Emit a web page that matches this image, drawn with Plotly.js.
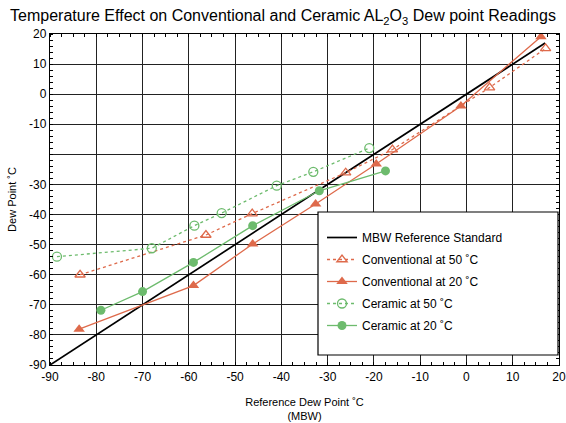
<!DOCTYPE html>
<html><head><meta charset="utf-8">
<script src="https://cdn.plot.ly/plotly-3.0.1.min.js"></script>
<style>html,body{margin:0;padding:0;background:#fff}#plot{width:566px;height:423px}</style>
</head><body><div id="plot"></div>
<script>
const refX = [-90, 17];
const refY = [-90, 17];
const conv50X = [-83.5, -56.3, -46.3, -26.1, -16, 5, 17.1];
const conv50Y = [-60, -46.8, -39.7, -26.1, -18.4, 2.2, 15.2];
const conv20X = [-83.7, -59, -46.2, -32.6, -19.5, -1.2, 16.1];
const conv20Y = [-78.1, -63.6, -49.8, -36.5, -23.2, -3.9, 19.1];
const cer50X = [-88.5, -68, -58.8, -52.9, -41, -33.1, -21];
const cer50Y = [-54, -51.2, -43.7, -39.5, -30.4, -25.8, -17.9];
const cer20X = [-79, -70, -59, -46.2, -31.8, -17.5];
const cer20Y = [-71.8, -65.6, -55.9, -43.7, -32.1, -25.5];
const tickVals = [-90,-80,-70,-60,-50,-40,-30,-20,-10,0,10,20];
const xTickText = ['-90','-80','-70','-60','-50','-40','-30','-20','-10','0','10','20'];
const yTickText = ['-90','-80','-70','-60','-50','-40','-30','','-10','0','10','20'];
const names = ['MBW Reference Standard','Conventional at 50 ˚C','Conventional at 20 ˚C','Ceramic at 50 ˚C','Ceramic at 20 ˚C'];

const orange = '#de6a4b', green = '#6dbb6d';
const traces = [
  {x: refX, y: refY, mode: 'lines', name: names[0], legendgroup: 'a',
   line: {color: '#000', width: 1.7}},
  {x: conv50X, y: conv50Y, mode: 'lines+markers', name: names[1], legendgroup: 'b',
   line: {color: orange, width: 1.3, dash: 'dot'},
   marker: {symbol: 'triangle-up-open', size: 9, color: orange, line: {width: 1.3}}},
  {x: conv20X, y: conv20Y, mode: 'lines+markers', name: names[2], legendgroup: 'c',
   line: {color: orange, width: 1.3},
   marker: {symbol: 'triangle-up', size: 10, color: orange}},
  {x: cer50X, y: cer50Y, mode: 'lines+markers', name: names[3], legendgroup: 'd',
   line: {color: green, width: 1.3, dash: 'dot'},
   marker: {symbol: 'circle-open', size: 9, color: green, line: {width: 1.3}}},
  {x: cer20X, y: cer20Y, mode: 'lines+markers', name: names[4], legendgroup: 'e',
   line: {color: green, width: 1.3},
   marker: {symbol: 'circle', size: 9, color: green}}
];

const axisCommon = {
  showgrid: true, gridcolor: '#222', gridwidth: 1,
  showline: true, linecolor: '#000', linewidth: 1.2, mirror: 'allticks',
  ticks: '', zeroline: false, tickmode: 'array', tickvals: tickVals,
  tickfont: {size: 12, color: '#000'}, fixedrange: true
};

const layout = {
  width: 566, height: 423,
  margin: {l: 50, r: 7, t: 34, b: 58},
  paper_bgcolor: '#fff', plot_bgcolor: '#fff',
  font: {family: 'Liberation Sans, Arial, sans-serif', color: '#000'},
  title: {text: 'Temperature Effect on Conventional and Ceramic AL<sub>2</sub>O<sub>3</sub> Dew point Readings',
          font: {size: 16, color: '#000'}, x: 0.5, xanchor: 'center', y: 0.976, yanchor: 'top'},
  xaxis: Object.assign({}, axisCommon, {
    range: [-90, 20], ticktext: xTickText,
    minor: {ticks: 'inside', dtick: 2.5, ticklen: 3, tickcolor: '#000', showgrid: false},
    title: {text: 'Reference Dew Point ˚C<br>(MBW)', font: {size: 11}, standoff: 15}
  }),
  yaxis: Object.assign({}, axisCommon, {
    range: [-90, 20], ticktext: yTickText,
    minor: {ticks: 'inside', dtick: 2, ticklen: 3, tickcolor: '#000', showgrid: false},
    title: {text: 'Dew Point ˚C', font: {size: 11}, standoff: 10}
  }),
  shapes: [{type: 'rect', xref: 'paper', yref: 'paper', layer: 'above',
    x0: (318-50)/509, x1: (558-50)/509, y0: (365-355)/331, y1: (365-212)/331,
    fillcolor: '#fff', line: {color: '#000', width: 1.2}}],
  showlegend: true,
  legend: {x: (322-50)/509, y: (365-223)/331, xanchor: 'left', yanchor: 'top',
    bgcolor: 'rgba(0,0,0,0)', borderwidth: 0, font: {size: 12, color: '#000'},
    traceorder: 'grouped', tracegroupgap: 3, itemwidth: 30}
};

Plotly.newPlot('plot', traces, layout, {displayModeBar: false, staticPlot: true});
</script></body></html>
